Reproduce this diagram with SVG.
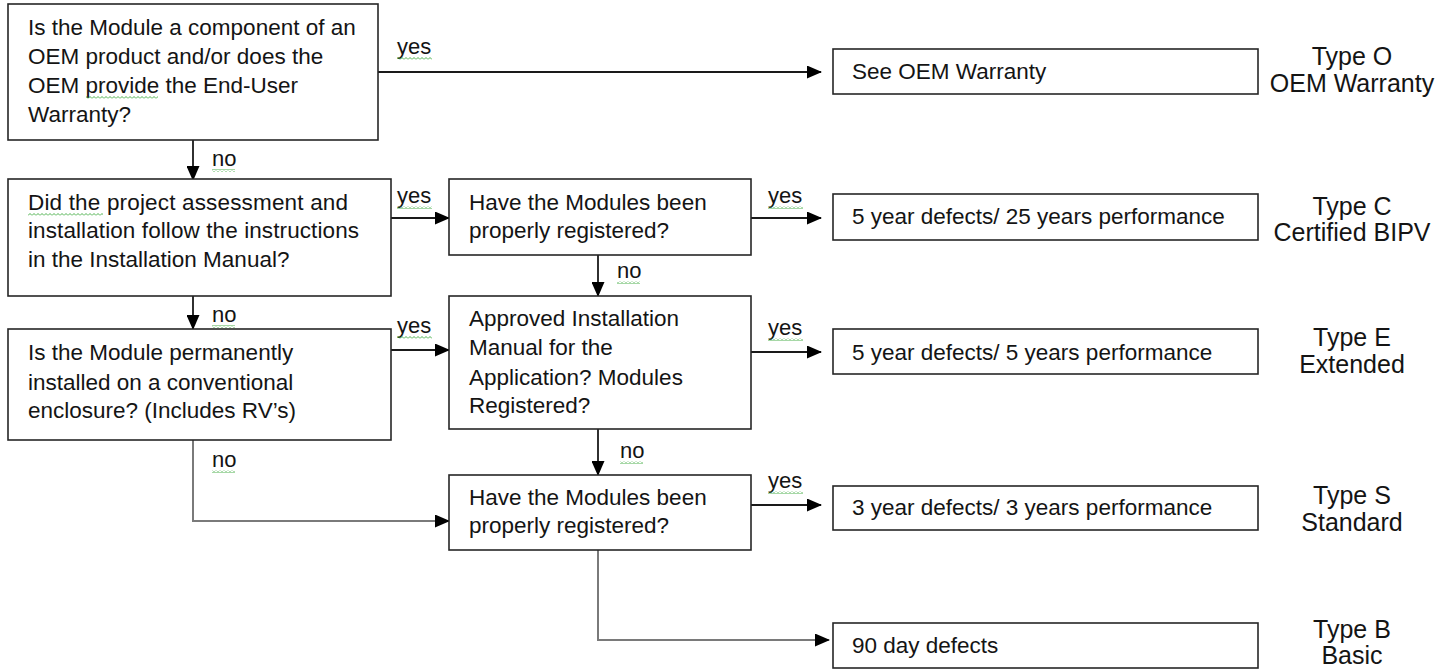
<svg xmlns="http://www.w3.org/2000/svg" width="1451" height="670" viewBox="0 0 1451 670">
<style>
.box{fill:#fff;stroke:#262626;stroke-width:1.6}
.t{font-family:"Liberation Sans",Arial,sans-serif;font-size:22.5px;fill:#141414}
.lbl{font-family:"Liberation Sans",Arial,sans-serif;font-size:22px;fill:#141414}
.type{font-family:"Liberation Sans",Arial,sans-serif;font-size:25px;fill:#141414;text-anchor:middle}
.c{fill:none;stroke:#1a1a1a;stroke-width:1.8}
.g{fill:none;stroke:#7a7a7a;stroke-width:2}
.sq{fill:url(#squig)}
</style>
<defs>
<marker id="ah" markerUnits="userSpaceOnUse" markerWidth="15" markerHeight="13" refX="14" refY="6.5" orient="auto">
<path d="M0,0 L15,6.5 L0,13 z" fill="#000"/>
</marker>
<pattern id="squig" patternUnits="userSpaceOnUse" width="4" height="3">
<polyline points="0,2.5 2,0.5 4,2.5" fill="none" stroke="#3aa83a" stroke-width="0.9"/>
</pattern>
</defs>

<g id="connectors">
<line class="c" x1="378" y1="72" x2="821" y2="72" marker-end="url(#ah)"/>
<line class="c" x1="193" y1="140" x2="193" y2="180" marker-end="url(#ah)"/>
<line class="c" x1="391" y1="218" x2="449" y2="218" marker-end="url(#ah)"/>
<line class="c" x1="751" y1="218" x2="821" y2="218" marker-end="url(#ah)"/>
<line class="c" x1="598" y1="255" x2="598" y2="296" marker-end="url(#ah)"/>
<line class="c" x1="193" y1="296" x2="193" y2="329" marker-end="url(#ah)"/>
<line class="c" x1="391" y1="350" x2="449" y2="350" marker-end="url(#ah)"/>
<line class="c" x1="751" y1="352" x2="821" y2="352" marker-end="url(#ah)"/>
<line class="c" x1="598" y1="429" x2="598" y2="475" marker-end="url(#ah)"/>
<line class="c" x1="751" y1="505" x2="821" y2="505" marker-end="url(#ah)"/>
<path class="g" d="M193,440 L193,521 L449,521" marker-end="url(#ah)"/>
<path class="g" d="M598,550 L598,640 L829,640" marker-end="url(#ah)"/>
<text class="lbl" x="397" y="54">yes</text>
<rect class="sq" x="397" y="57" width="35" height="3"/>
<text class="lbl" x="212" y="166">no</text>
<rect class="sq" x="212" y="169" width="23" height="3"/>
<text class="lbl" x="397" y="203">yes</text>
<rect class="sq" x="397" y="206" width="35" height="3"/>
<text class="lbl" x="768" y="203">yes</text>
<rect class="sq" x="768" y="206" width="35" height="3"/>
<text class="lbl" x="617" y="278">no</text>
<rect class="sq" x="617" y="281" width="23" height="3"/>
<text class="lbl" x="212" y="322">no</text>
<rect class="sq" x="212" y="325" width="23" height="3"/>
<text class="lbl" x="397" y="333">yes</text>
<rect class="sq" x="397" y="336" width="35" height="3"/>
<text class="lbl" x="768" y="335">yes</text>
<rect class="sq" x="768" y="338" width="35" height="3"/>
<text class="lbl" x="212" y="467">no</text>
<rect class="sq" x="212" y="470" width="23" height="3"/>
<text class="lbl" x="620" y="458">no</text>
<rect class="sq" x="620" y="461" width="23" height="3"/>
<text class="lbl" x="768" y="488">yes</text>
<rect class="sq" x="768" y="491" width="35" height="3"/>
</g>

<g id="q1">
<rect class="box" x="8" y="4" width="370" height="136"/>
<text class="t" x="28" y="35">Is the Module a component of an</text>
<text class="t" x="28" y="64">OEM product and/or does the</text>
<text class="t" x="28" y="93">OEM provide the End-User</text>
<text class="t" x="28" y="122">Warranty?</text>
<rect class="sq" x="86" y="96" width="72" height="3"/>
</g>

<g id="q2">
<rect class="box" x="8" y="179" width="383" height="117"/>
<text class="t" x="28" y="210" textLength="320" lengthAdjust="spacing">Did  the project assessment  and</text>
<text class="t" x="28" y="238" textLength="331" lengthAdjust="spacing">installation  follow the  instructions</text>
<text class="t" x="28" y="267">in the Installation  Manual?</text>
<rect class="sq" x="28" y="213" width="75" height="3"/>
</g>

<g id="q3">
<rect class="box" x="449" y="179" width="302" height="76"/>
<text class="t" x="469" y="210">Have the Modules  been</text>
<text class="t" x="469" y="238">properly registered?</text>
</g>

<g id="q4">
<rect class="box" x="449" y="296" width="302" height="133"/>
<text class="t" x="469" y="326">Approved Installation</text>
<text class="t" x="469" y="355">Manual for the</text>
<text class="t" x="469" y="385">Application? Modules</text>
<text class="t" x="469" y="413">Registered?</text>
</g>

<g id="q5">
<rect class="box" x="8" y="329" width="383" height="111"/>
<text class="t" x="28" y="360">Is the Module permanently</text>
<text class="t" x="28" y="390">installed  on a conventional</text>
<text class="t" x="28" y="418">enclosure? (Includes RV’s)</text>
</g>

<g id="q6">
<rect class="box" x="449" y="475" width="302" height="75"/>
<text class="t" x="469" y="505">Have the Modules  been</text>
<text class="t" x="469" y="533">properly registered?</text>
</g>

<g id="rO">
<rect class="box" x="833" y="49" width="425" height="45"/>
<text class="t" x="852" y="79">See OEM Warranty</text>
<text class="type" x="1352" y="65">Type O</text>
<text class="type" x="1352" y="92">OEM Warranty</text>
</g>

<g id="rC">
<rect class="box" x="833" y="194" width="425" height="46"/>
<text class="t" x="852" y="224">5 year defects/ 25 years performance</text>
<text class="type" x="1352" y="215">Type C</text>
<text class="type" x="1352" y="241">Certified BIPV</text>
</g>

<g id="rE">
<rect class="box" x="833" y="329" width="425" height="45"/>
<text class="t" x="852" y="360">5 year defects/ 5 years performance</text>
<text class="type" x="1352" y="346">Type E</text>
<text class="type" x="1352" y="373">Extended</text>
</g>

<g id="rS">
<rect class="box" x="833" y="486" width="425" height="44"/>
<text class="t" x="852" y="515">3 year defects/ 3 years performance</text>
<text class="type" x="1352" y="504">Type S</text>
<text class="type" x="1352" y="531">Standard</text>
</g>

<g id="rB">
<rect class="box" x="833" y="623" width="425" height="45"/>
<text class="t" x="852" y="653">90 day defects</text>
<text class="type" x="1352" y="638">Type B</text>
<text class="type" x="1352" y="664">Basic</text>
</g>
</svg>
